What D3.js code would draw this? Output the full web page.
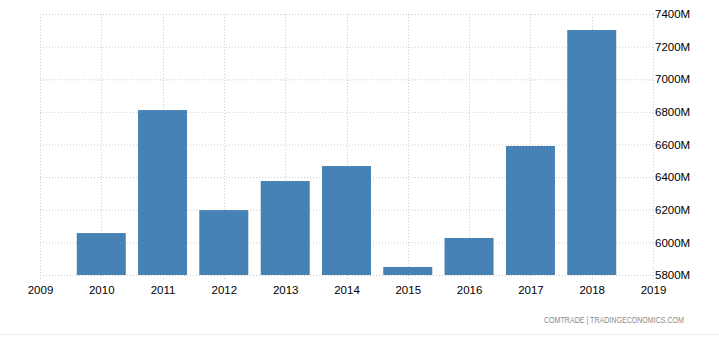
<!DOCTYPE html>
<html>
<head>
<meta charset="UTF-8">
<script src="https://d3js.org/d3.v7.min.js"></script>
<style>
  body { margin: 0; background: #fff; }
  text { font-family: "Liberation Sans", Arial, sans-serif; }
</style>
</head>
<body>
<div id="chart"></div>
<script>
    const years = [2010, 2011, 2012, 2013, 2014, 2015, 2016, 2017, 2018];
    const values = [6057, 6811, 6198, 6376, 6468, 5849, 6027, 6591, 7302];
    const yTicks = [5800, 6000, 6200, 6400, 6600, 6800, 7000, 7200, 7400];
    const xTicks = [2009, 2010, 2011, 2012, 2013, 2014, 2015, 2016, 2017, 2018, 2019];
    const source = 'COMTRADE | TRADINGECONOMICS.COM';

    const width = 719, height = 338;
    const plotLeft = 40, plotRight = 653, plotTop = 14, plotBottom = 275;

    const svg = d3.select('#chart').append('svg')
        .attr('width', width)
        .attr('height', height);

    const x = d3.scaleTime()
        .domain([new Date(2009, 0, 1), new Date(2019, 0, 1)])
        .range([plotLeft, plotRight]);

    const y = d3.scaleLinear()
        .domain([5800, 7400])
        .range([plotBottom, plotTop]);

    const grid = svg.append('g');

    // horizontal grid lines
    grid.selectAll('line.h')
        .data(yTicks)
        .enter().append('line')
        .attr('class', 'h')
        .attr('x1', plotLeft).attr('x2', plotRight)
        .attr('y1', d => y(d) + 0.5).attr('y2', d => y(d) + 0.5)
        .attr('stroke', '#cccccc')
        .attr('stroke-dasharray', '1,2');

    // vertical grid lines
    grid.selectAll('line.v')
        .data(xTicks)
        .enter().append('line')
        .attr('class', 'v')
        .attr('x1', d => Math.round(x(new Date(d, 0, 1))) + 0.5)
        .attr('x2', d => Math.round(x(new Date(d, 0, 1))) + 0.5)
        .attr('y1', plotTop).attr('y2', plotBottom + 4)
        .attr('stroke', '#cccccc')
        .attr('stroke-dasharray', '1,2');

    // bars
    const barW = 49;
    svg.append('g').selectAll('rect')
        .data(years.map((yr, i) => ({ yr, v: values[i] })))
        .enter().append('rect')
        .attr('x', d => x(new Date(d.yr, 0, 1)) - barW / 2)
        .attr('y', d => y(d.v))
        .attr('width', barW)
        .attr('height', d => plotBottom - y(d.v))
        .attr('fill', '#4682b4');

    // x axis labels
    const xAxis = d3.axisBottom(x)
        .tickValues(xTicks.map(d => new Date(d, 0, 1)))
        .tickFormat(d3.timeFormat('%Y'))
        .tickSize(0)
        .tickPadding(11);
    const gx = svg.append('g')
        .attr('transform', `translate(0,${plotBottom})`)
        .call(xAxis);
    gx.select('.domain').remove();
    gx.selectAll('text')
        .attr('font-size', 11.5)
        .attr('fill', '#000')
        .style('font-family', '"Liberation Sans", Arial, sans-serif');

    // y axis labels on the right
    const yAxis = d3.axisRight(y)
        .tickValues(yTicks)
        .tickFormat(d => d + 'M')
        .tickSize(0)
        .tickPadding(2);
    const gy = svg.append('g')
        .attr('transform', `translate(${plotRight},0)`)
        .call(yAxis);
    gy.select('.domain').remove();
    gy.selectAll('text')
        .attr('font-size', 11.5)
        .attr('fill', '#000')
        .style('font-family', '"Liberation Sans", Arial, sans-serif');

    // source
    svg.append('text')
        .attr('x', 684)
        .attr('y', 323)
        .attr('text-anchor', 'end')
        .attr('font-size', 8.5)
        .attr('fill', '#8a8a8a')
        .attr('textLength', 140)
        .attr('lengthAdjust', 'spacingAndGlyphs')
        .text(source);

    svg.append('line')
        .attr('x1', 0).attr('x2', width)
        .attr('y1', 334.5).attr('y2', 334.5)
        .attr('stroke', '#eeeeee');
</script>
</body>
</html>
